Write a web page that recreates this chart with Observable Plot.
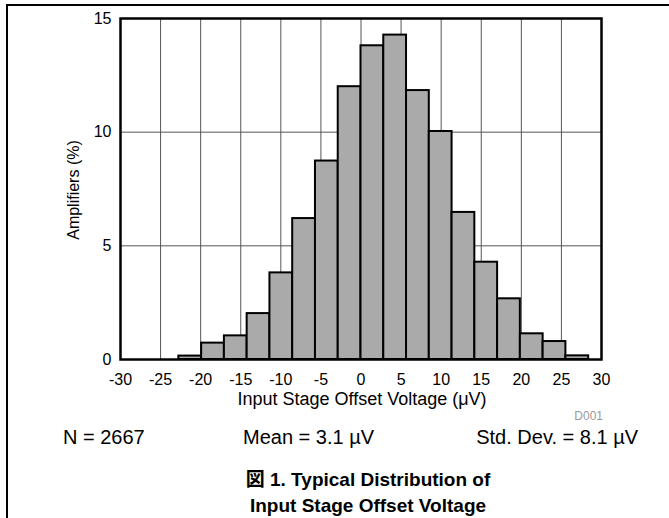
<!DOCTYPE html>
<html>
<head>
<meta charset="utf-8">
<script src="https://cdn.jsdelivr.net/npm/d3@7"></script>
<script src="https://cdn.jsdelivr.net/npm/@observablehq/plot@0.6"></script>
<style>
  html, body { margin: 0; padding: 0; background: #fff; }
  #wrap { position: relative; width: 669px; height: 518px; overflow: hidden;
    font-family: "Liberation Sans", Arial, "Noto Sans CJK JP", sans-serif; color: #000; }
  #frame { position: absolute; left: 6px; top: 4px; width: 680px; height: 600px;
    border-top: 2px solid #000; border-left: 2px solid #000; box-sizing: border-box; }
  #chart { position: absolute; left: 0; top: 0; }
  .t { position: absolute; white-space: nowrap; line-height: 1; }
</style>
</head>
<body>
<div id="wrap">
  <div id="frame"></div>
  <div id="chart"></div>
  <div class="t" id="ylab" style="font-size:16px; left:74px; top:190px; transform: translate(-50%,-50%) rotate(-90deg);">Amplifiers (%)</div>
  <div class="t" style="font-size:18px; left:362px; top:390px; transform: translateX(-50%);">Input Stage Offset Voltage (μV)</div>
  <div class="t" style="font-size:12px; right:66px; top:410px; color:#999;">D001</div>
  <div class="t" style="font-size:20px; left:63px; top:427px;">N = 2667</div>
  <div class="t" style="font-size:20px; left:243px; top:427px;">Mean = 3.1 µV</div>
  <div class="t" style="font-size:20px; right:31px; top:427px;">Std. Dev. = 8.1 µV</div>
  <div class="t" style="font-size:19px; font-weight:bold; left:368px; top:470px; transform: translateX(-50%);">図 1. Typical Distribution of</div>
  <div class="t" style="font-size:19px; font-weight:bold; left:368px; top:496px; transform: translateX(-50%);">Input Stage Offset Voltage</div>
</div>
<script>
// Histogram bin edges (µV) and share of amplifiers per bin (%)
const binEdges = [-22.72, -19.88, -17.04, -14.2, -11.36, -8.52, -5.68, -2.84, 0,
                  2.84, 5.68, 8.52, 11.36, 14.2, 17.04, 19.88, 22.72, 25.56, 28.4];
const pct = [0.15, 0.72, 1.04, 2.02, 3.81, 6.2, 8.73, 12.0, 13.8,
             14.27, 11.83, 10.03, 6.47, 4.28, 2.67, 1.13, 0.79, 0.16];
const xTicks = [-30, -25, -20, -15, -10, -5, 0, 5, 10, 15, 20, 25, 30];
const yTicks = [0, 5, 10, 15];
const xGrid = [-25, -20, -15, -10, -5, 0, 5, 10, 15, 20, 25];
const yGrid = [5, 10];

const bins = pct.map((v, i) => ({ lo: binEdges[i], hi: binEdges[i + 1], v }));

const chart = Plot.plot({
  width: 669,
  height: 410,
  marginLeft: 120,
  marginRight: 68,
  marginTop: 18,
  marginBottom: 51,
  style: { fontFamily: '"Liberation Sans", Arial, sans-serif', background: "transparent", overflow: "visible" },
  x: { domain: [-30, 30] },
  y: { domain: [0, 15] },
  marks: [
    Plot.ruleX(xGrid, { stroke: "#555", strokeWidth: 1 }),
    Plot.ruleY(yGrid, { stroke: "#555", strokeWidth: 1 }),
    Plot.rectY(bins, { x1: "lo", x2: "hi", y: "v", fill: "#aaaaaa", stroke: "#000", strokeWidth: 2, inset: 0 }),
    Plot.frame({ stroke: "#000", strokeWidth: 2.5 }),
    Plot.axisX({ ticks: xTicks, tickSize: 0, tickPadding: 14, tickFormat: d => String(d), label: null, fontSize: 16 }),
    Plot.axisY({ ticks: yTicks, tickSize: 0, tickPadding: 9, tickFormat: d => String(d), label: null, fontSize: 16 })
  ]
});
document.getElementById("chart").appendChild(chart);
</script>
</body>
</html>
